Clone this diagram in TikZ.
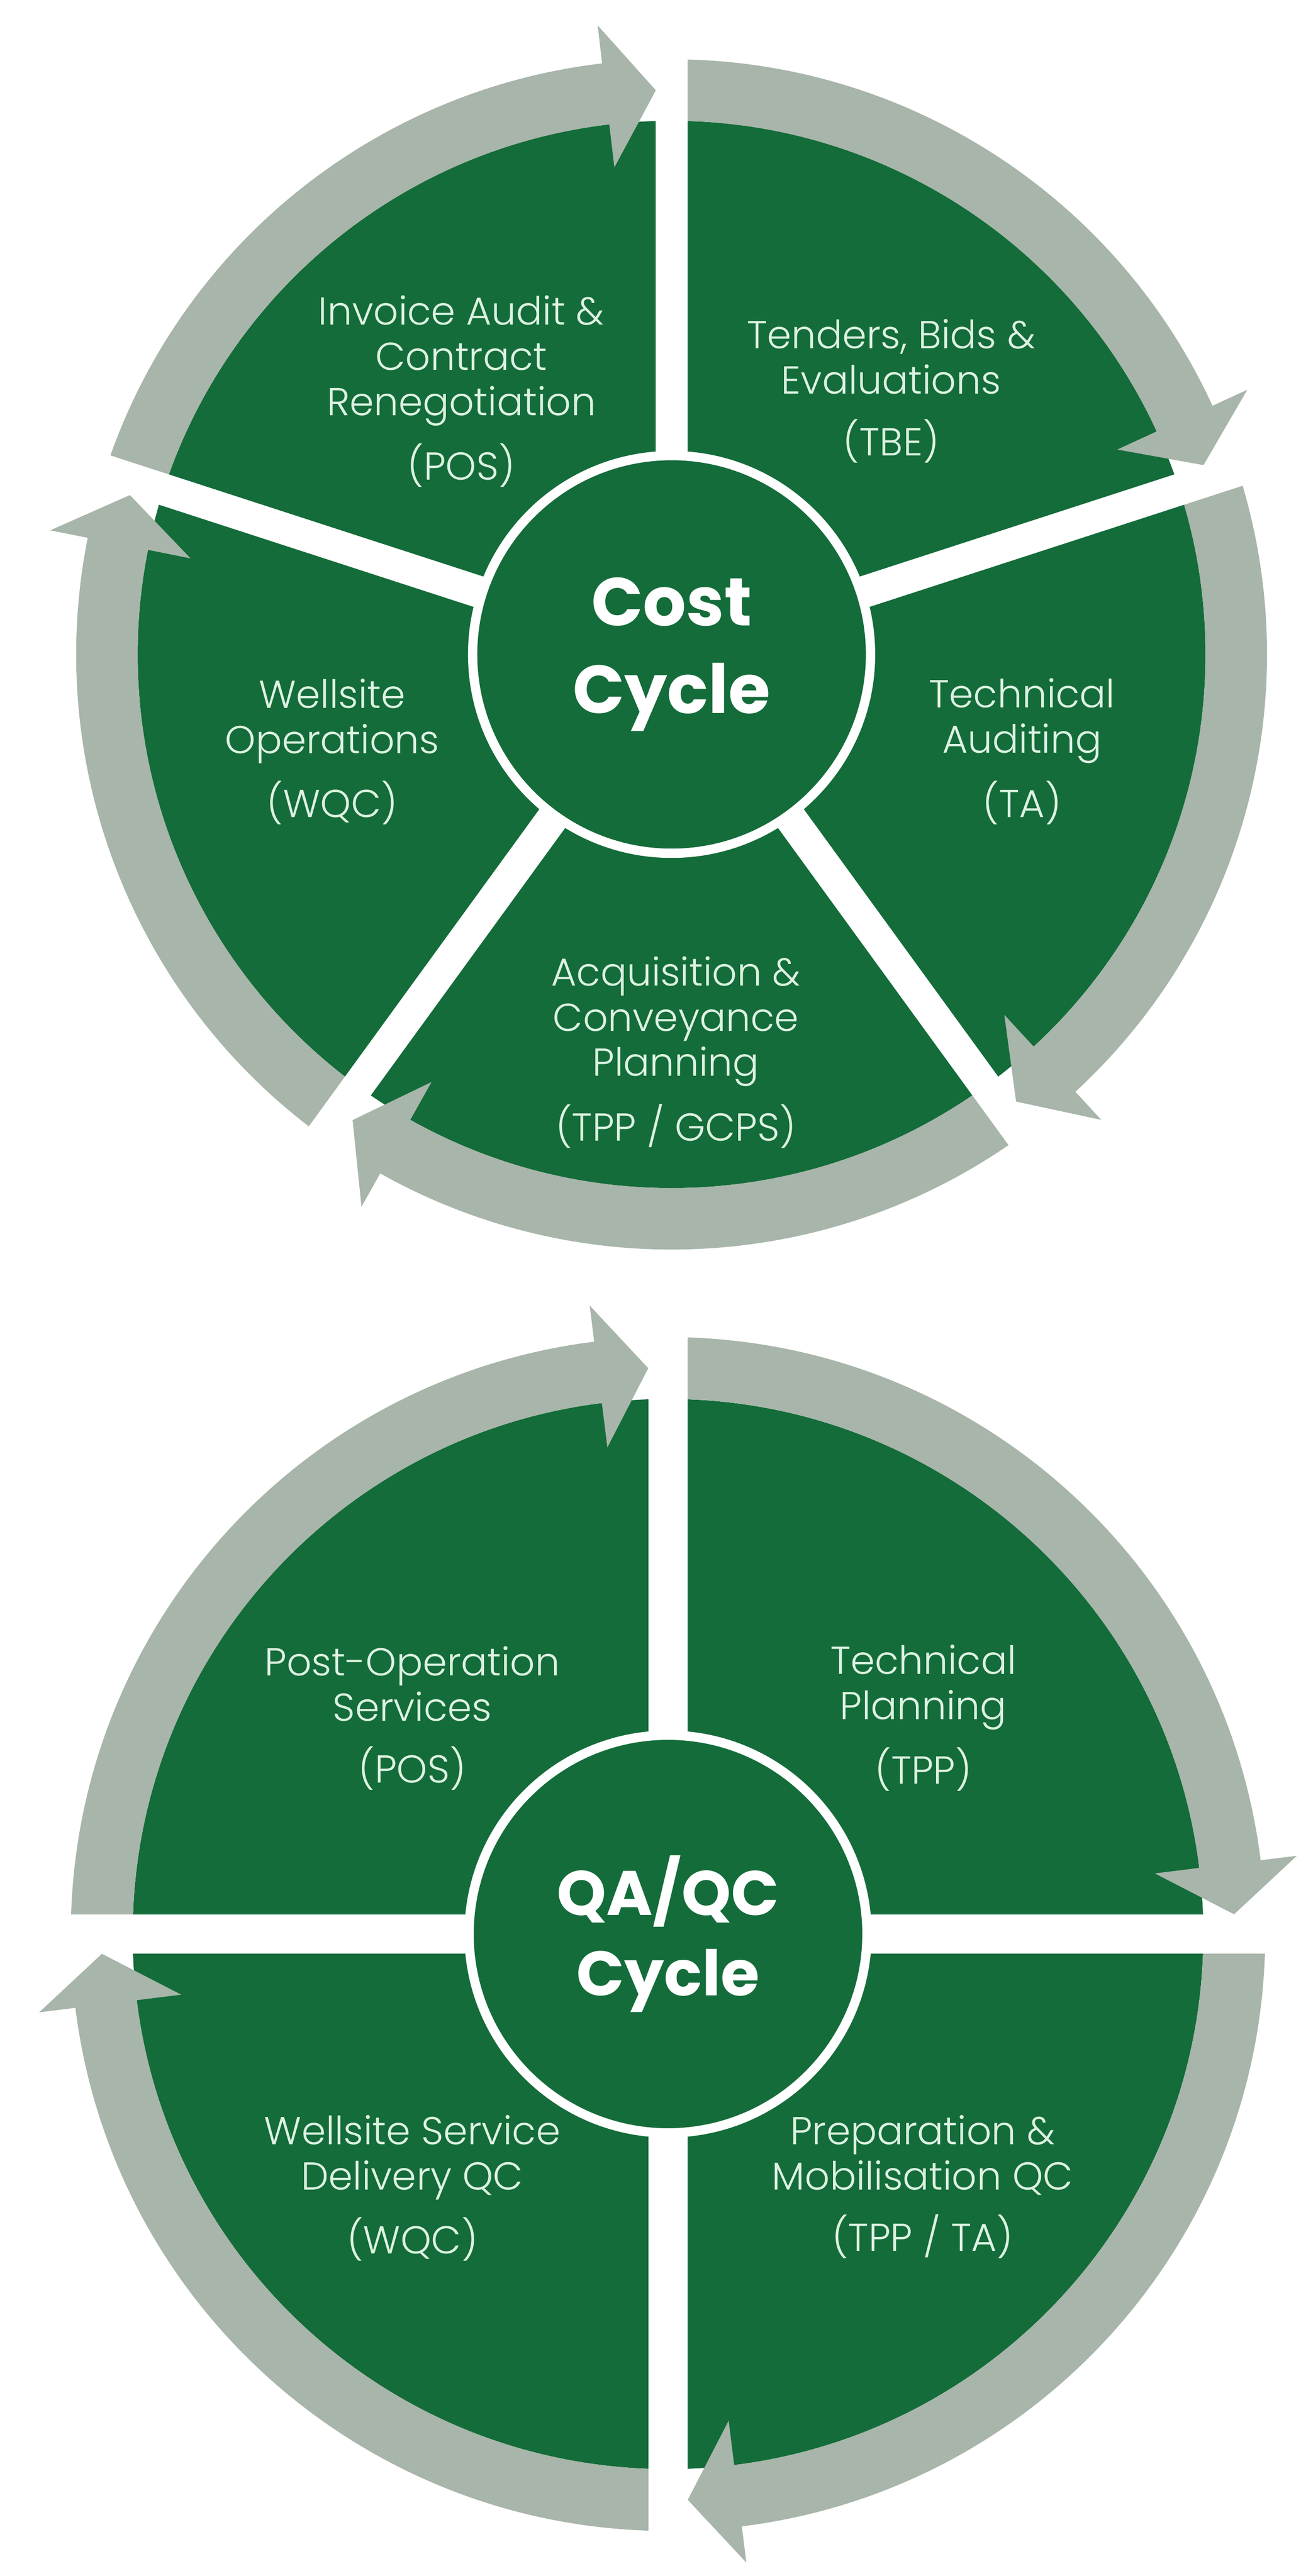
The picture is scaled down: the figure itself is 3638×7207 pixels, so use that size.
\documentclass[tikz,border=0pt]{standalone}
\usepackage{fontspec}
\setmainfont{Poppins}
\newfontfamily\thinfont{Poppins Light}
\usepackage{tikz}

\definecolor{cyclegreen}{HTML}{136C39}
\definecolor{arrowgrey}{HTML}{A8B5AA}
\definecolor{labelmint}{HTML}{DDF2E2}

\begin{document}
\begin{tikzpicture}[x=0.01cm, y=0.01cm,
        sector/.style={fill=cyclegreen},
        flow/.style={fill=arrowgrey},
        gapline/.style={draw=white, line width=0.89cm},
        widegap/.style={draw=white, line width=1.10cm},
        label/.style={text=labelmint, align=center, inner sep=0pt,
            font=\thinfont\fontsize{31}{36}\selectfont},
        hub/.style={circle, fill=cyclegreen, draw=white, line width=0.26cm,
            minimum size=11.12cm, inner sep=0pt, text=white, align=center}]
        \useasboundingbox (0,0) rectangle (3638,7207);

        % Cost cycle
        \begin{scope}[shift={(1878,5376)}]
        \fill[sector] (0,0) circle[radius=1493];
        \fill[flow] (162:1665) arc[start angle=162, end angle=96.7, radius=1665] -- (96.7:1772) -- (91.6:1579) -- (96.7:1372) -- (96.7:1493) arc[start angle=96.7, end angle=162, radius=1493] -- cycle;
        \fill[flow] (90:1665) arc[start angle=90, end angle=24.7, radius=1665] -- (24.7:1772) -- (19.6:1579) -- (24.7:1372) -- (24.7:1493) arc[start angle=24.7, end angle=90, radius=1493] -- cycle;
        \fill[flow] (18:1665) arc[start angle=18, end angle=-47.3, radius=1665] -- (-47.3:1772) -- (-52.4:1579) -- (-47.3:1372) -- (-47.3:1493) arc[start angle=-47.3, end angle=18, radius=1493] -- cycle;
        \fill[flow] (-54:1665) arc[start angle=-54, end angle=-119.3, radius=1665] -- (-119.3:1772) -- (-124.4:1579) -- (-119.3:1372) -- (-119.3:1493) arc[start angle=-119.3, end angle=-54, radius=1493] -- cycle;
        \fill[flow] (-126:1665) arc[start angle=-126, end angle=-191.3, radius=1665] -- (-191.3:1772) -- (-196.4:1579) -- (-191.3:1372) -- (-191.3:1493) arc[start angle=-191.3, end angle=-126, radius=1493] -- cycle;

        % gaps between the sectors
        \draw[gapline] (0,0) -- (90:1800);
        \draw[gapline] (0,0) -- (18:1800);
        \draw[gapline] (0,0) -- (-54:1800);
        \draw[gapline] (0,0) -- (-126:1800);
        \draw[gapline] (0,0) -- (162:1800);

        \node[hub, font=\bfseries\fontsize{54}{70}\selectfont] (costhub) at (0,0) {Cost\\Cycle};

        \node[label] (invoice) at (-588,736) {Invoice Audit \&\\Contract\\Renegotiation\\[13pt](POS)};
        \node[label] (tenders) at (614,737) {Tenders, Bids \&\\Evaluations\\[13pt](TBE)};
        \node[label] (techaudit) at (980,-272) {Technical\\Auditing\\[13pt](TA)};
        \node[label] (acquisition) at (12,-1113) {Acquisition \&\\Conveyance\\Planning\\[13pt](TPP / GCPS)};
        \node[label] (wellsite) at (-949,-272) {Wellsite\\Operations\\[13pt](WQC)};
        \end{scope}

        % QA/QC cycle
        \begin{scope}[shift={(1868,1796)}]
        \fill[sector] (0,0) circle[radius=1497];
        \fill[flow] (180:1670) arc[start angle=180, end angle=97.1, radius=1670] -- (97.1:1772) -- (92:1584) -- (97.1:1372) -- (97.1:1497) arc[start angle=97.1, end angle=180, radius=1497] -- cycle;
        \fill[flow] (90:1670) arc[start angle=90, end angle=7.1, radius=1670] -- (7.1:1772) -- (2:1584) -- (7.1:1372) -- (7.1:1497) arc[start angle=7.1, end angle=90, radius=1497] -- cycle;
        \fill[flow] (0:1670) arc[start angle=0, end angle=-82.9, radius=1670] -- (-82.9:1772) -- (-88:1584) -- (-82.9:1372) -- (-82.9:1497) arc[start angle=-82.9, end angle=0, radius=1497] -- cycle;
        \fill[flow] (-90:1670) arc[start angle=-90, end angle=-172.9, radius=1670] -- (-172.9:1772) -- (-178:1584) -- (-172.9:1372) -- (-172.9:1497) arc[start angle=-172.9, end angle=-90, radius=1497] -- cycle;

        % gaps between the sectors
        \draw[widegap] (0,0) -- (90:1800);
        \draw[widegap] (0,0) -- (0:1800);
        \draw[widegap] (0,0) -- (-90:1800);
        \draw[widegap] (0,0) -- (180:1800);

        \node[hub, font=\bfseries\fontsize{50}{64}\selectfont] (qahub) at (0,0) {QA/QC\\Cycle};

        \node[label] (postop) at (-715,604) {Post-Operation\\Services\\[13pt](POS)};
        \node[label] (techplan) at (714,604) {Technical\\Planning\\[13pt](TPP)};
        \node[label] (delivery) at (-715,-711) {Wellsite Service\\Delivery QC\\[13pt](WQC)};
        \node[label] (prepmob) at (712,-707) {Preparation \&\\Mobilisation QC\\[13pt](TPP / TA)};
        \end{scope}
    \end{tikzpicture}
\end{document}
